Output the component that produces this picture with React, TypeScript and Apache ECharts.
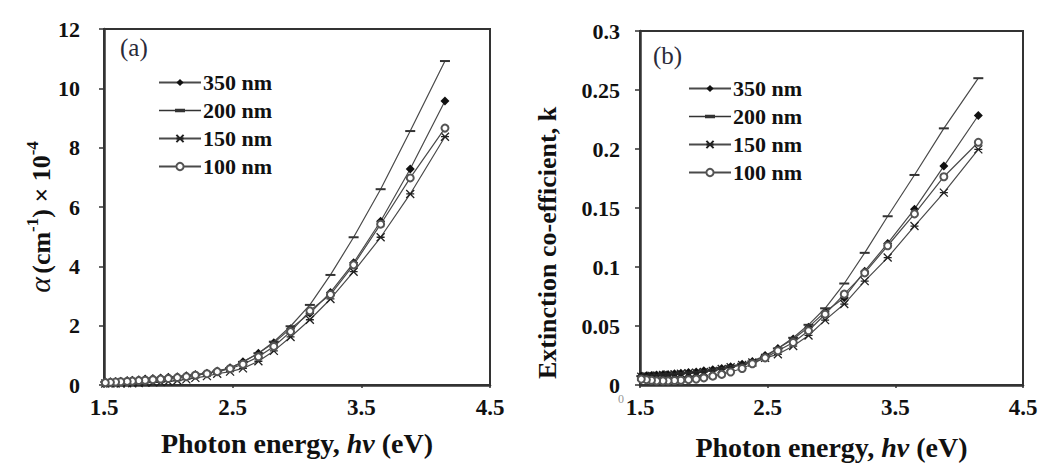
import React, { useEffect, useRef } from "react";
import * as echarts from "echarts";

// Photon energy (eV) of each measured point
const energy = [4.15, 3.88, 3.65, 3.44, 3.26, 3.1, 2.95, 2.82, 2.7, 2.58, 2.48, 2.38, 2.3, 2.21, 2.14, 2.07, 2.0, 1.94, 1.88, 1.82, 1.77, 1.72, 1.68, 1.63, 1.59, 1.55, 1.51];

const seriesNames = ["350 nm", "200 nm", "150 nm", "100 nm"];

// (a) absorption coefficient alpha x 10^-4 (cm^-1)
const alpha350 = [9.57, 7.28, 5.52, 4.12, 3.12, 2.42, 1.9, 1.42, 1.07, 0.78, 0.58, 0.47, 0.4, 0.35, 0.31, 0.28, 0.26, 0.24, 0.22, 0.2, 0.18, 0.16, 0.15, 0.13, 0.12, 0.11, 0.1];
const alpha200 = [10.92, 8.56, 6.6, 4.98, 3.71, 2.7, 1.98, 1.46, 1.07, 0.78, 0.57, 0.46, 0.39, 0.34, 0.3, 0.27, 0.25, 0.23, 0.21, 0.19, 0.17, 0.16, 0.14, 0.13, 0.12, 0.11, 0.1];
const alpha150 = [8.37, 6.44, 4.98, 3.82, 2.9, 2.2, 1.62, 1.15, 0.8, 0.56, 0.45, 0.38, 0.3, 0.24, 0.19, 0.15, 0.12, 0.1, 0.09, 0.08, 0.07, 0.06, 0.06, 0.05, 0.05, 0.05, 0.05];
const alpha100 = [8.66, 6.98, 5.42, 4.05, 3.05, 2.5, 1.8, 1.3, 0.95, 0.7, 0.55, 0.45, 0.38, 0.33, 0.28, 0.25, 0.22, 0.2, 0.18, 0.16, 0.15, 0.13, 0.12, 0.11, 0.1, 0.09, 0.08];

// (b) extinction coefficient k
const k350 = [0.2284, 0.1855, 0.149, 0.12, 0.0965, 0.074, 0.062, 0.049, 0.039, 0.031, 0.025, 0.02, 0.0175, 0.0155, 0.014, 0.013, 0.012, 0.011, 0.0105, 0.01, 0.0095, 0.009, 0.0088, 0.0085, 0.008, 0.0078, 0.0075];
const k200 = [0.26, 0.2175, 0.178, 0.143, 0.112, 0.086, 0.065, 0.051, 0.04, 0.031, 0.024, 0.02, 0.018, 0.016, 0.0145, 0.013, 0.012, 0.011, 0.0105, 0.01, 0.0095, 0.009, 0.0088, 0.0085, 0.008, 0.0078, 0.0075];
const k150 = [0.1997, 0.163, 0.1347, 0.108, 0.088, 0.0686, 0.055, 0.042, 0.033, 0.026, 0.023, 0.019, 0.017, 0.015, 0.0135, 0.012, 0.011, 0.0105, 0.01, 0.0095, 0.009, 0.0088, 0.0085, 0.008, 0.0078, 0.0075, 0.007];
const k100 = [0.2057, 0.1765, 0.145, 0.118, 0.095, 0.077, 0.06, 0.046, 0.036, 0.029, 0.023, 0.018, 0.014, 0.011, 0.009, 0.0075, 0.006, 0.005, 0.0045, 0.004, 0.0038, 0.0035, 0.0035, 0.0035, 0.004, 0.0045, 0.005];

const FONT = "'Liberation Serif', 'Times New Roman', serif";
const LINE = "#4a4a4a";

const symbolDefs: any[] = [
  { symbol: "diamond", symbolSize: 9, color: "#111", itemStyle: { color: "#111" } },
  { symbol: "rect", symbolSize: [10, 2], color: "#333", itemStyle: { color: "#333" } },
  { symbol: "path://M0,0L10,10M10,0L0,10M0,5L10,5", symbolSize: 8, color: "#222", itemStyle: { color: "#222", borderColor: "#222", borderWidth: 1.3 } },
  { symbol: "emptyCircle", symbolSize: 7, color: "#555", itemStyle: { color: "#555", borderColor: "#555", borderWidth: 1.3 } },
];

function pairs(ys: number[]) {
  return energy.map((x, i) => [x, ys[i]]);
}

export default function App() {
  const ref = useRef<HTMLDivElement>(null);
  useEffect(() => {
    if (!ref.current) return;
    const chart = echarts.init(ref.current, undefined, { renderer: "svg" });
    const aData = [alpha350, alpha200, alpha150, alpha100];
    const kData = [k350, k200, k150, k100];
    const series: any[] = [];
    [aData, kData].forEach((set, gi) => {
      set.forEach((ys, si) => {
        series.push({
          type: "line",
          name: seriesNames[si],
          xAxisIndex: gi,
          yAxisIndex: gi,
          data: pairs(ys),
          ...symbolDefs[si],
          showSymbol: true,
          lineStyle: { color: LINE, width: 1.2 },
          z: 2 + si,
        });
      });
    });

    const axisText = { fontFamily: FONT, fontWeight: "bold", color: "#111" } as any;
    const xAxisCommon = (idx: number, gap: number) => ({
      type: "value",
      gridIndex: idx,
      min: 1.5,
      max: 4.5,
      interval: 1,
      axisLine: { show: true, lineStyle: { color: "#333", width: 2.5 } },
      axisTick: { show: true, length: 3, lineStyle: { color: "#333", width: 1.5 } },
      splitLine: { show: false },
      axisLabel: { ...axisText, fontSize: 23, margin: 11, formatter: (v: number) => v.toFixed(1) },
      name: "{b|Photon energy, }{i|hv}{b| (eV)}",
      nameLocation: "middle",
      nameGap: gap,
      nameTextStyle: {
        rich: {
          b: { fontFamily: FONT, fontWeight: "bold", fontSize: 28, color: "#111" },
          i: { fontFamily: FONT, fontWeight: "bold", fontStyle: "italic", fontSize: 28, color: "#111" },
        },
      },
    });

    const legendData = seriesNames.map((n) =>
      n === "200 nm" ? { name: n, icon: "path://M0,4h42v1.4H0z M16,3h10v3.4H16z" } : { name: n }
    );

    const legendCommon = {
      orient: "vertical",
      itemWidth: 42,
      itemHeight: 9,
      itemGap: 5,
      data: legendData,
      selectedMode: false,
      textStyle: { fontFamily: FONT, fontWeight: "bold", fontSize: 22, color: "#111", lineHeight: 23, padding: [0, 0, 0, -3] },
    };

    const option: any = {
      animation: false,
      backgroundColor: "#fff",
      grid: [
        { left: 104, top: 29, width: 386, height: 356, show: true, borderColor: "#333", borderWidth: 2 },
        { left: 640, top: 31, width: 383, height: 366, show: true, borderColor: "#333", borderWidth: 2 },
      ],
      xAxis: [xAxisCommon(0, 44), xAxisCommon(1, 48)],
      yAxis: [
        {
          type: "value",
          gridIndex: 0,
          min: 0,
          max: 12,
          interval: 2,
          axisLine: { show: true, lineStyle: { color: "#333", width: 2.5 } },
          axisTick: { show: true, length: 5, lineStyle: { color: "#333", width: 1.5 } },
          splitLine: { show: false },
          axisLabel: { ...axisText, fontSize: 22, margin: 24 },
          name: "{i|α} {b|(cm}{s|-1}{b|) × 10}{s|-4}",
          nameLocation: "middle",
          nameRotate: 90,
          nameGap: 50,
          nameTextStyle: {
            padding: [0, 20, 0, 0],
            rich: {
              i: { fontFamily: FONT, fontStyle: "italic", fontSize: 30, color: "#111", verticalAlign: "bottom" },
              b: { fontFamily: FONT, fontWeight: "bold", fontSize: 26, color: "#111", verticalAlign: "bottom" },
              s: { fontFamily: FONT, fontWeight: "bold", fontSize: 17, color: "#111", verticalAlign: "top" },
            },
          },
        },
        {
          type: "value",
          gridIndex: 1,
          min: 0,
          max: 0.3,
          interval: 0.05,
          axisLine: { show: true, lineStyle: { color: "#333", width: 2.5 } },
          axisTick: { show: true, length: 5, lineStyle: { color: "#333", width: 1.5 } },
          splitLine: { show: false },
          axisLabel: { ...axisText, fontSize: 22, margin: 20 },
          name: "Extinction co-efficient, k",
          nameLocation: "middle",
          nameRotate: 90,
          nameGap: 80,
          nameTextStyle: { fontFamily: FONT, fontWeight: "bold", fontSize: 26, color: "#111", padding: [0, 70, 0, 0] },
        },
      ],
      legend: [
        { ...legendCommon, left: 153, top: 66 },
        { ...legendCommon, left: 683, top: 72 },
      ],
      graphic: [
        { type: "text", left: 120, top: 35, style: { text: "(a)", font: `25px ${FONT}`, fill: "#2a2a3a" } },
        { type: "text", left: 653, top: 43, style: { text: "(b)", font: `25px ${FONT}`, fill: "#2a2a3a" } },
        { type: "text", left: 618, top: 393, style: { text: "0", font: `12px ${FONT}`, fill: "#999" } },
      ],
      series,
    };
    chart.setOption(option);
    return () => chart.dispose();
  }, []);
  return <div ref={ref} style={{ position: "fixed", left: 0, top: 0, width: 1045, height: 466 }} />;
}
